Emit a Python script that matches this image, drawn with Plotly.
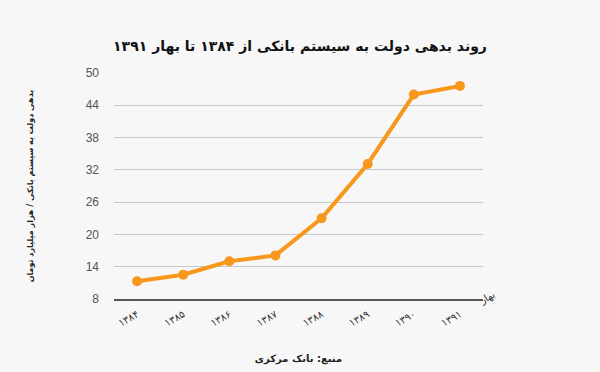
import plotly.graph_objects as go

years = ["۱۳۸۴", "۱۳۸۵", "۱۳۸۶", "۱۳۸۷", "۱۳۸۸", "۱۳۸۹", "۱۳۹۰", "۱۳۹۱"]
debt = [11.3, 12.5, 15.0, 16.1, 23.0, 33.1, 46.0, 47.6]
y_ticks = [8, 14, 20, 26, 32, 38, 44, 50]

title_text = "روند بدهی دولت به سیستم بانکی از ۱۳۸۴ تا بهار ۱۳۹۱"
y_title = "بدهی دولت به سیستم بانکی / هزار میلیارد تومان"
source_text = "منبع: بانک مرکزی"
spring_text = "بهار"

fa_font = "DejaVu Sans"

fig = go.Figure()
fig.add_trace(go.Scatter(
    x=years, y=debt, mode="lines+markers",
    line=dict(color="#F7981D", width=4),
    marker=dict(color="#F7981D", size=10),
    hoverinfo="skip",
))

fig.update_layout(
    width=600, height=372,
    margin=dict(l=114, r=117, t=73, b=73),
    paper_bgcolor="#f7f7f7",
    plot_bgcolor="#f7f7f7",
    showlegend=False,
    title=dict(
        text="<b>" + title_text + "</b>",
        x=0.5, xanchor="center", y=0.875, yanchor="middle",
        font=dict(family=fa_font, size=14, color="#111"),
    ),
    xaxis=dict(
        type="category",
        range=[-0.5, 7.5],
        automargin=False,
        showgrid=False,
        showline=True, linecolor="#555", linewidth=1.5,
        ticks="",
        tickangle=-30,
        ticklabelstandoff=4,
        tickfont=dict(family=fa_font, size=10, color="#333"),
        title=dict(text="<b>" + source_text + "</b>", standoff=27,
                   font=dict(family=fa_font, size=10, color="#222")),
    ),
    yaxis=dict(
        range=[8, 50],
        tickvals=y_ticks,
        automargin=False,
        showgrid=True, gridcolor="#c8c8c8", gridwidth=1,
        zeroline=False,
        showline=False,
        ticks="",
        ticklabelstandoff=14,
        tickfont=dict(family="Liberation Sans, Arial", size=12, color="#555"),
        title=dict(text="<b>" + y_title + "</b>", standoff=50,
                   font=dict(family=fa_font, size=8, color="#222")),
    ),
)

fig.add_annotation(
    x=1.0, y=0, xref="paper", yref="paper",
    text=spring_text, showarrow=False, textangle=-30,
    xanchor="center", yanchor="middle", xshift=4, yshift=1,
    font=dict(family=fa_font, size=10, color="#333"),
)

fig.write_html(
    "out.html",
    config={"displayModeBar": False},
    post_script="document.body.style.margin='0';document.body.style.background='#f7f7f7';",
)
